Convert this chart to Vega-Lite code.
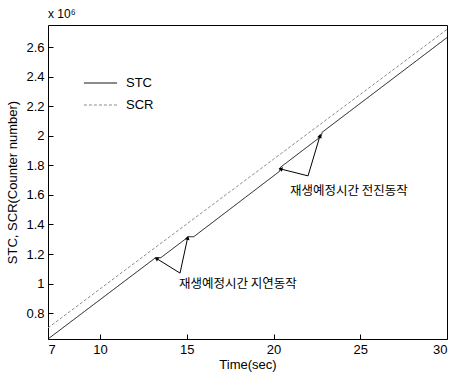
{
  "$schema": "https://vega.github.io/schema/vega-lite/v6.json",
  "width": 399,
  "height": 314,
  "autosize": {"type": "none"},
  "padding": {"left": 48, "top": 25, "right": 5, "bottom": 39},
  "background": "white",
  "config": {
    "view": {"stroke": "black", "strokeWidth": 1},
    "font": "Liberation Sans",
    "axis": {
      "labelFont": "Liberation Sans",
      "titleFont": "Liberation Sans",
      "labelFontSize": 13,
      "titleFontSize": 13,
      "labelColor": "black",
      "titleColor": "black",
      "titleFontWeight": "normal",
      "grid": false,
      "domain": false,
      "tickColor": "black",
      "tickSize": -5
    }
  },
  "title": {"text": "x 10⁶", "anchor": "start", "frame": "group", "fontSize": 12, "fontWeight": "normal", "font": "Liberation Sans", "offset": 4},
  "datasets": {
    "lines": [
      {"series": "STC", "t": 7, "v": 0.625},
      {"series": "STC", "t": 13.2, "v": 1.175},
      {"series": "STC", "t": 13.5, "v": 1.175},
      {"series": "STC", "t": 15.1, "v": 1.317},
      {"series": "STC", "t": 15.4, "v": 1.317},
      {"series": "STC", "t": 20.35, "v": 1.76},
      {"series": "STC", "t": 20.4, "v": 1.787},
      {"series": "STC", "t": 22.75, "v": 1.997},
      {"series": "STC", "t": 22.8, "v": 2.024},
      {"series": "STC", "t": 30, "v": 2.665},
      {"series": "SCR", "t": 7, "v": 0.7},
      {"series": "SCR", "t": 13, "v": 1.228},
      {"series": "SCR", "t": 20, "v": 1.842},
      {"series": "SCR", "t": 27.3, "v": 2.482},
      {"series": "SCR", "t": 30, "v": 2.72}
    ],
    "notes": [
      {"label": "재생예정시간 지연동작", "t": 14.55, "v": 1.0},
      {"label": "재생예정시간 전진동작", "t": 20.95, "v": 1.627}
    ],
    "arrows": [
      {"t": 14.61, "v": 1.071, "t2": 13.25, "v2": 1.17, "dir": 301},
      {"t": 14.61, "v": 1.071, "t2": 15.05, "v2": 1.31, "dir": 13},
      {"t": 21.99, "v": 1.729, "t2": 20.4, "v2": 1.776, "dir": 284},
      {"t": 21.99, "v": 1.729, "t2": 22.68, "v2": 2.0, "dir": 16}
    ]
  },
  "layer": [
    {
      "data": {"name": "lines"},
      "mark": {"type": "line", "strokeWidth": 1},
      "encoding": {
        "x": {"field": "t", "type": "quantitative", "scale": {"domain": [7, 30], "nice": false, "zero": false},
          "axis": {"values": [7, 10, 15, 20, 25, 30], "tickCount": 20, "title": "Time(sec)", "titlePadding": 2, "labelPadding": 9, "labelOverlap": false}},
        "y": {"field": "v", "type": "quantitative", "scale": {"domain": [0.625, 2.75], "nice": false, "zero": false},
          "axis": {"values": [0.8, 1, 1.2, 1.4, 1.6, 1.8, 2, 2.2, 2.4, 2.6], "tickCount": 20, "format": "~g",
            "title": "STC, SCR(Counter number)", "labelPadding": 9, "titlePadding": 6, "labelOverlap": false, "labelFlush": false}},
        "color": {"field": "series", "type": "nominal", "scale": {"domain": ["STC", "SCR"], "range": ["#111111", "#8a8a8a"]},
          "legend": {"orient": "none", "legendX": 35, "legendY": 51, "title": null, "symbolType": "stroke", "symbolSize": 1100, "symbolStrokeWidth": 1, "labelFontSize": 13, "labelFont": "Liberation Sans", "labelColor": "black", "clipHeight": 14, "rowPadding": 8, "labelOffset": 8}},
        "strokeDash": {"field": "series", "type": "nominal", "scale": {"domain": ["STC", "SCR"], "range": [[1, 0], [3, 2]]}, "legend": null}
      }
    },
    {
      "data": {"name": "arrows"},
      "mark": {"type": "rule", "color": "black", "strokeWidth": 1},
      "encoding": {
        "x": {"field": "t", "type": "quantitative"},
        "y": {"field": "v", "type": "quantitative"},
        "x2": {"field": "t2"},
        "y2": {"field": "v2"}
      }
    },
    {
      "data": {"name": "arrows"},
      "mark": {"type": "point", "shape": "triangle-up", "filled": true, "color": "black", "size": 22, "opacity": 1},
      "encoding": {
        "x": {"field": "t2", "type": "quantitative"},
        "y": {"field": "v2", "type": "quantitative"},
        "angle": {"field": "dir", "type": "quantitative", "scale": null}
      }
    },
    {
      "data": {"name": "notes"},
      "mark": {"type": "text", "align": "left", "baseline": "middle", "font": "Noto Sans CJK KR", "fontSize": 12.5, "color": "black"},
      "encoding": {
        "x": {"field": "t", "type": "quantitative"},
        "y": {"field": "v", "type": "quantitative"},
        "text": {"field": "label"}
      }
    }
  ]
}
